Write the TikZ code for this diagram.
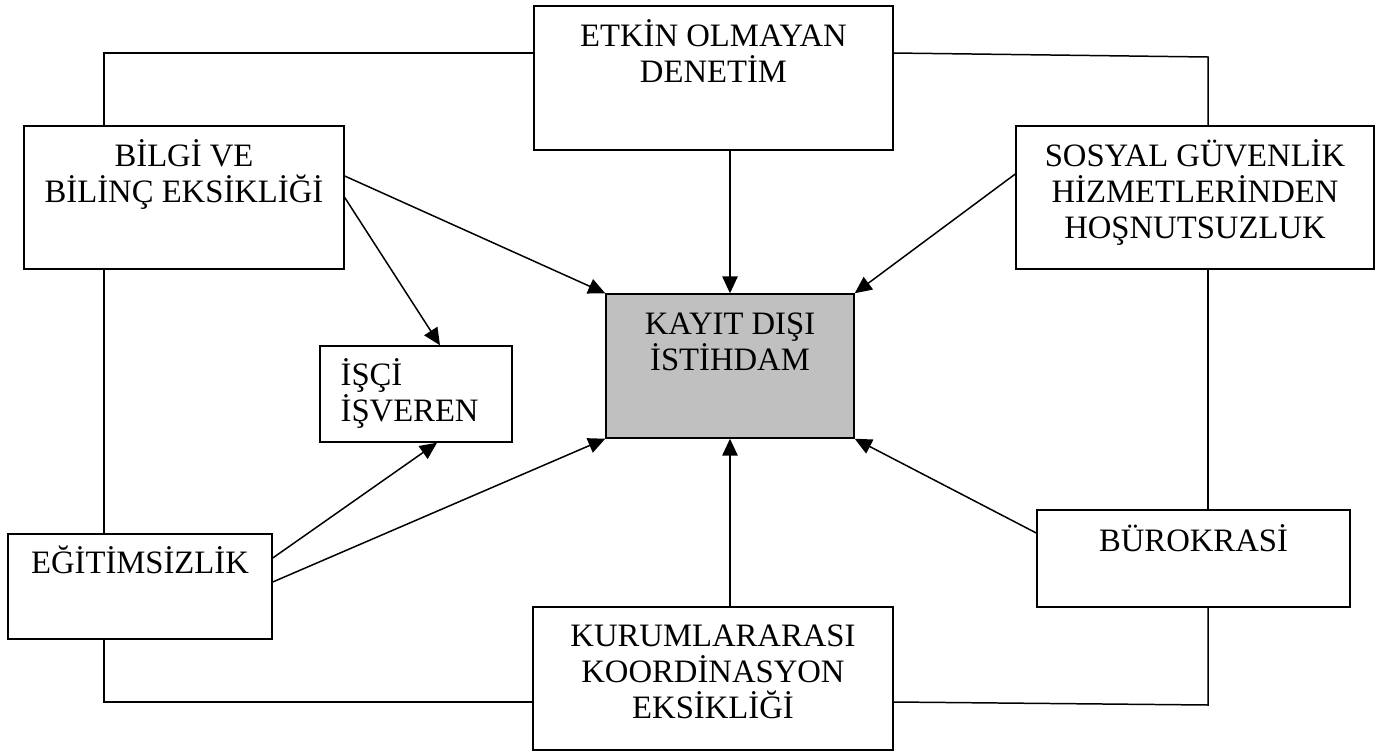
\documentclass[tikz,border=0pt]{standalone}
\usepackage{fontspec}
\setmainfont{Liberation Serif}
\usetikzlibrary{arrows.meta}
\definecolor{gris}{RGB}{192,192,192}

\begin{document}
\begin{tikzpicture}[x=0.02cm,y=-0.02cm]
      \tikzstyle{boite}=[draw,line width=0.85pt,inner sep=0pt]
      \tikzstyle{texte}=[anchor=base,align=center,inner sep=0pt,font=\fontsize{18.6}{20.5}\selectfont]
      \tikzstyle{fleche}=[line width=0.85pt,-{Triangle[length=3.4mm,width=3.1mm]}]
      \tikzstyle{trait}=[line width=0.85pt]
      \useasboundingbox (0,0) rectangle (1387,751);
      \node[boite,minimum width=7.18cm,minimum height=2.88cm] (etkin) at (713.5,78) {};
      \node[boite,minimum width=6.4cm,minimum height=2.86cm] (bilgi) at (184,197.5) {};
      \node[boite,minimum width=7.16cm,minimum height=2.86cm] (sosyal) at (1195,197.5) {};
      \node[boite,fill=gris,minimum width=4.96cm,minimum height=2.88cm] (kayit) at (730,366) {};
      \node[boite,minimum width=3.84cm,minimum height=1.92cm] (isci) at (416,394) {};
      \node[boite,minimum width=5.28cm,minimum height=2.1cm] (egitim) at (140,586.5) {};
      \node[boite,minimum width=6.26cm,minimum height=1.94cm] (buro) at (1193.5,558.5) {};
      \node[boite,minimum width=7.2cm,minimum height=2.86cm] (kurum) at (713,678.5) {};
      \node[texte] (t1) at ([yshift=-1.54cm]etkin.north) {ETKİN OLMAYAN\\DENETİM};
      \node[texte] (t2) at ([yshift=-1.54cm]bilgi.north) {BİLGİ VE\\BİLİNÇ EKSİKLİĞİ};
      \node[texte] (t3) at ([yshift=-2.26cm]sosyal.north) {SOSYAL GÜVENLİK\\HİZMETLERİNDEN\\HOŞNUTSUZLUK};
      \node[texte] (t4) at ([yshift=-1.54cm]kayit.north) {KAYIT DIŞI\\İSTİHDAM};
      \node[texte,anchor=base west,align=left] (t5) at ([xshift=0.42cm,yshift=-1.52cm]isci.north west) {İŞÇİ\\İŞVEREN};
      \node[texte] (t6) at ([yshift=-0.8cm]egitim.north) {EĞİTİMSİZLİK};
      \node[texte] (t7) at ([yshift=-0.84cm]buro.north) {BÜROKRASİ};
      \node[texte] (t8) at ([yshift=-2.24cm]kurum.north) {KURUMLARARASI\\KOORDİNASYON\\EKSİKLİĞİ};
      \coordinate (hg) at (104,53);
      \coordinate (hd) at (1208,57);
      \coordinate (bd) at (1208,705);
      \coordinate (bg) at (104,702);
      \draw[trait] (etkin.west |- hg)--(hg)--(hg |- bilgi.north);
      \draw[trait] ([yshift=0.5cm]etkin.east)--(hd)--(hd |- sosyal.north);
      \draw[trait] (hd |- sosyal.south)--(hd |- buro.north);
      \draw[trait] (hd |- buro.south)--(bd)--([yshift=-0.47cm]kurum.east);
      \draw[trait] (kurum.west |- bg)--(bg)--(bg |- egitim.south);
      \draw[trait] (hg |- bilgi.south)--(hg |- egitim.north);
      \draw[fleche] ([yshift=0.43cm]bilgi.east)--(kayit.north west);
      \draw[fleche] (bilgi.east)--([xshift=0.48cm]isci.north);
      \draw[fleche] (etkin.south -| kayit.north)--(kayit.north);
      \draw[fleche] ([yshift=0.47cm]sosyal.west)--(kayit.north east);
      \draw[fleche] ([yshift=0.57cm]egitim.east)--([xshift=0.42cm]isci.south);
      \draw[fleche] ([yshift=0.09cm]egitim.east)--(kayit.south west);
      \draw[fleche] (kurum.north -| kayit.south)--(kayit.south);
      \draw[fleche] ([yshift=0.51cm]buro.west)--(kayit.south east);
    \end{tikzpicture}
\end{document}
